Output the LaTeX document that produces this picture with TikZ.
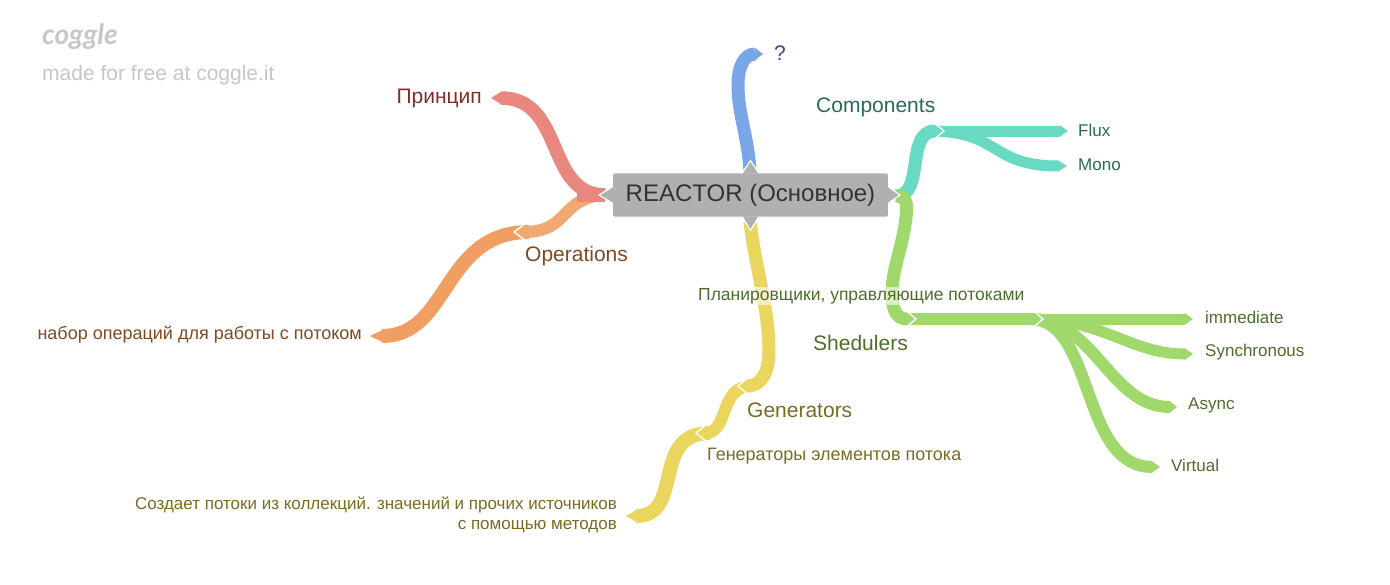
\documentclass[tikz,border=0pt]{standalone}
\usepackage{fontspec}
\setmainfont{Liberation Sans}
\newfontfamily\logofont{Lato}
\definecolor{cRed}{HTML}{E8877F}\definecolor{tRed}{HTML}{7E302C}
\definecolor{cOrA}{HTML}{F1A96F}\definecolor{cOrB}{HTML}{F09E62}\definecolor{tOr}{HTML}{7F4A22}
\definecolor{cYel}{HTML}{EAD55F}\definecolor{tYel}{HTML}{7A6C22}
\definecolor{cGrn}{HTML}{A0D86B}\definecolor{tGrn}{HTML}{4F6E2C}
\definecolor{cTeal}{HTML}{68D9C3}\definecolor{tTeal}{HTML}{286B5C}
\definecolor{cBlue}{HTML}{7AA5E6}\definecolor{tBlue}{HTML}{2F4A8A}
\definecolor{cRoot}{HTML}{B0B0B0}
\tikzset{
  ribbon/.style={line width=#1,line cap=butt},
  big/.style={font=\fontsize{21}{24}\selectfont,inner sep=0pt},
  small/.style={font=\fontsize{17}{20}\selectfont,inner sep=0pt},
  halo/.style={fill=white,fill opacity=.6,text opacity=1,inner sep=1pt},
  rootbox/.style={fill=cRoot,draw=white,line width=.8pt,rounded corners=2pt,minimum width=276pt,minimum height=44pt,inner sep=0pt,text=black!80,font=\fontsize{24}{28}\selectfont},
}
% tip: #1 coordinate, #2 direction (1 right, -1 left), #3 half width, #4 length, #5 colour
\newcommand\plaintip[5]{\fill[#5] (#1) +(-0.5*#2,-#3) -- +(#2*#4,0) -- +(-0.5*#2,#3) -- cycle;}
\newcommand\notchtip[5]{\plaintip{#1}{#2}{#3}{#4}{#5}
  \draw[white,line width=1.4pt,line join=miter] (#1) +(0,-#3-1) -- +(#2*#4+#2*1,0) -- +(0,#3+1);}
\begin{document}
\begin{tikzpicture}[x=1pt,y=-1pt]
\useasboundingbox[fill=white] (0,0) rectangle (1390,584);
% named ends
\coordinate (rL) at (605,195);
\coordinate (rR) at (896,196);
\coordinate (rT) at (750,172);
\coordinate (rB) at (750,222);
\coordinate (ePrin) at (501,98);
\coordinate (eQ) at (755,54);
\coordinate (eOps) at (524,232);
\coordinate (sOps) at (529,232);
\coordinate (eNabor) at (382,336);
\coordinate (eComp) at (935,131);
\coordinate (sComp) at (930,131);
\coordinate (eFlux) at (1060,131);
\coordinate (eMono) at (1058,166);
\coordinate (eShedA) at (907,319);
\coordinate (sShedB) at (905,319);
\coordinate (eShedB) at (1035,319);
\coordinate (sShedC) at (1030,319);
\coordinate (eImm) at (1185,319);
\coordinate (eSyn) at (1185,354);
\coordinate (eAsy) at (1170,407);
\coordinate (eVir) at (1152,467);
\coordinate (eGen) at (747,386);
\coordinate (sGen) at (752,386);
\coordinate (eGenB) at (705,433);
\coordinate (sGenB) at (710,433);
\coordinate (eSoz) at (636,516);
% --- red
\draw[cRed,ribbon=13.5pt] (rL) .. controls (545,195) and (565,98) .. (ePrin);
\plaintip{ePrin}{-1}{6.5}{10}{cRed}
% --- orange
\draw[cOrB,ribbon=14pt] (sOps) .. controls (442,232) and (450,336) .. (eNabor);
\plaintip{eNabor}{-1}{6}{12}{cOrB}
\draw[cOrA,ribbon=12pt] (rL) .. controls (560,197) and (570,232) .. (eOps);
\notchtip{eOps}{-1}{6.5}{9}{cOrA}
\draw[cRed,ribbon=13.5pt] (rL) -- +(-28,0);
% --- blue
\draw[cBlue,ribbon=13pt] (rT) .. controls (748,135) and (738,115) .. (738,85) .. controls (738,65) and (745,54) .. (eQ);
\plaintip{eQ}{1}{6.5}{8}{cBlue}
% --- yellow
\draw[cYel,ribbon=14pt] (sGenB) .. controls (650,433) and (685,516) .. (eSoz);
\plaintip{eSoz}{-1}{6}{10}{cYel}
\draw[cYel,ribbon=12pt] (sGen) .. controls (718,386) and (730,433) .. (eGenB);
\notchtip{eGenB}{-1}{6.5}{8}{cYel}
\draw[cYel,ribbon=13pt] (rB) .. controls (755,265) and (769,310) .. (769,350) .. controls (769,375) and (760,386) .. (eGen);
\notchtip{eGen}{-1}{6.5}{8}{cYel}
% --- teal
\draw[cTeal,ribbon=11pt] (sComp) -- (eFlux);
\plaintip{eFlux}{1}{6}{8}{cTeal}
\draw[cTeal,ribbon=11pt] (sComp) .. controls (1000,131) and (990,166) .. (eMono);
\plaintip{eMono}{1}{6}{9}{cTeal}
\draw[cTeal,ribbon=13pt] (rR) .. controls (925,196) and (905,131) .. (eComp);
\notchtip{eComp}{1}{6.5}{8}{cTeal}
% --- green
\draw[cGrn,ribbon=11pt] (sShedC) -- (eImm);
\plaintip{eImm}{1}{6}{8}{cGrn}
\draw[cGrn,ribbon=11pt] (sShedC) .. controls (1105,319) and (1130,354) .. (eSyn);
\plaintip{eSyn}{1}{6}{8}{cGrn}
\draw[cGrn,ribbon=12pt] (sShedC) .. controls (1095,319) and (1110,407) .. (eAsy);
\plaintip{eAsy}{1}{6}{7}{cGrn}
\draw[cGrn,ribbon=12pt] (sShedC) .. controls (1095,319) and (1080,467) .. (eVir);
\plaintip{eVir}{1}{6}{8}{cGrn}
\draw[cGrn,ribbon=12pt] (sShedB) -- (eShedB);
\notchtip{eShedB}{1}{6}{7}{cGrn}
\draw[cGrn,ribbon=13pt] (rR) .. controls (908,196) and (908,205) .. (905,225) .. controls (900,255) and (892,270) .. (892,295) .. controls (892,310) and (897,319) .. (eShedA);
\notchtip{eShedA}{1}{6.5}{8}{cGrn}
% --- root
\node[rootbox] (root) at (750.5,195) {REACTOR (Основное)};
\foreach \anc/\ax/\ay/\bx/\by in {west/0/-8/-12/0,west/0/8/-12/0}{}
\fill[cRoot] (root.west) +(1,-8) -- +(-12,0) -- +(1,8) -- cycle;
\draw[white,line width=1.2pt] (root.west) +(0,-8) -- +(-13,0) -- +(0,8);
\fill[cRoot] (root.east) +(-1,-8) -- +(10,0) -- +(-1,8) -- cycle;
\draw[white,line width=1.2pt] (root.east) +(0,-8) -- +(11,0) -- +(0,8);
\fill[cRoot] (root.north) +(-8,1) -- +(0,-11) -- +(8,1) -- cycle;
\draw[white,line width=1.2pt] (root.north) +(-8,0) -- +(0,-12) -- +(8,0);
\fill[cRoot] (root.south) +(-8,-1) -- +(0,12) -- +(8,-1) -- cycle;
\draw[white,line width=1.2pt] (root.south) +(-8,0) -- +(0,13) -- +(8,0);
% --- labels
\node[anchor=west,font=\logofont\bfseries\itshape\fontsize{28}{30}\selectfont,text=black!22,inner sep=0pt] (logo) at (42,37) {coggle};
\node[anchor=west,font=\fontsize{21}{24}\selectfont,text=black!22,inner sep=0pt] (made) at (42,75) {made for free at coggle.it};
\node[big,text=tRed,anchor=east] (prin) at (482,98) {Принцип};
\node[big,text=tOr,anchor=west] (ops) at (525,256) {Operations};
\node[small,text=tOr,anchor=east,font=\fontsize{18}{20}\selectfont] (nabor) at (362,335) {набор операций для работы с потоком};
\node[big,text=tBlue,anchor=west] (q) at (774,53) {?};
\node[big,text=tTeal,anchor=west] (comp) at (816,107) {Components};
\node[small,text=tTeal,anchor=west] (flux) at (1078,130) {Flux};
\node[small,text=tTeal,anchor=west] (mono) at (1078,165) {Mono};
\node[small,text=tGrn,anchor=west,halo,font=\fontsize{17.5}{20}\selectfont] (plan) at (697,296) {Планировщики, управляющие потоками};
\node[big,text=tGrn,anchor=west] (shed) at (813,343) {Shedulers};
\node[small,text=tGrn,anchor=west] (imm) at (1205,317) {immediate};
\node[small,text=tGrn,anchor=west] (syn) at (1205,352) {Synchronous};
\node[small,text=tGrn,anchor=west] (asy) at (1188,405) {Async};
\node[small,text=tGrn,anchor=west] (vir) at (1171,465) {Virtual};
\node[big,text=tYel,anchor=west] (gen) at (747,410) {Generators};
\node[small,text=tYel,anchor=west,font=\fontsize{18}{20}\selectfont] (genb) at (707,456) {Генераторы элементов потока};
\node[small,text=tYel,anchor=east,align=right] (soz) at (617,515) {Создает потоки из коллекций. значений и прочих источников\\с помощью методов};
\end{tikzpicture}
\end{document}
